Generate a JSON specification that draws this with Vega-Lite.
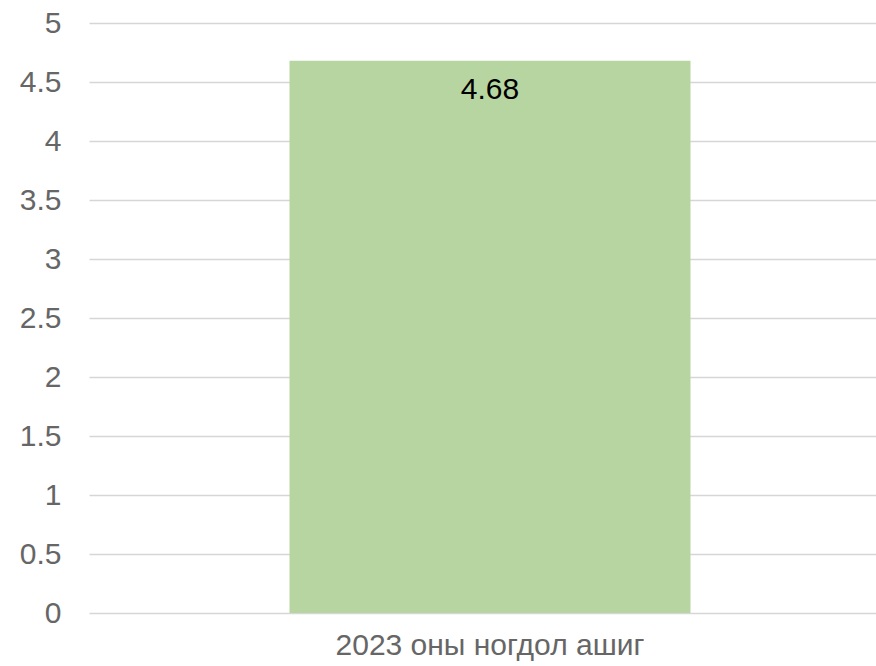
{
  "$schema": "https://vega.github.io/schema/vega-lite/v6.json",
  "width": 802,
  "height": 590,
  "autosize": "none",
  "padding": {"left": 89, "top": 23, "right": 0, "bottom": 53},
  "background": "white",
  "config": {
    "view": {"stroke": null},
    "font": "Liberation Sans"
  },
  "data": {"values": [{"category": "2023 оны ногдол ашиг", "value": 4.68}]},
  "encoding": {
    "x": {
      "field": "category",
      "type": "nominal",
      "scale": {"paddingInner": 0.5, "paddingOuter": 0.25},
      "axis": {
        "title": null,
        "domain": false,
        "ticks": false,
        "labelAngle": 0,
        "labelLimit": 0,
        "labelFont": "Liberation Sans",
        "labelFontSize": 30,
        "labelColor": "#666666",
        "labelPadding": 17
      }
    },
    "y": {
      "field": "value",
      "type": "quantitative",
      "scale": {"domain": [0, 5]},
      "axis": {
        "title": null,
        "values": [0, 0.5, 1, 1.5, 2, 2.5, 3, 3.5, 4, 4.5, 5],
        "format": ".1~f",
        "domain": false,
        "ticks": false,
        "labelFont": "Liberation Sans",
        "labelFontSize": 30,
        "labelColor": "#666666",
        "labelPadding": 28,
        "gridColor": "#d6d6d6",
        "gridWidth": 1.5
      }
    }
  },
  "layer": [
    {"mark": {"type": "bar", "color": "#b7d5a1"}},
    {
      "mark": {
        "type": "text",
        "font": "Liberation Sans",
        "fontSize": 30,
        "color": "#000000",
        "baseline": "alphabetic",
        "dy": 38
      },
      "encoding": {"text": {"field": "value", "type": "quantitative", "format": ".2f"}}
    }
  ]
}
